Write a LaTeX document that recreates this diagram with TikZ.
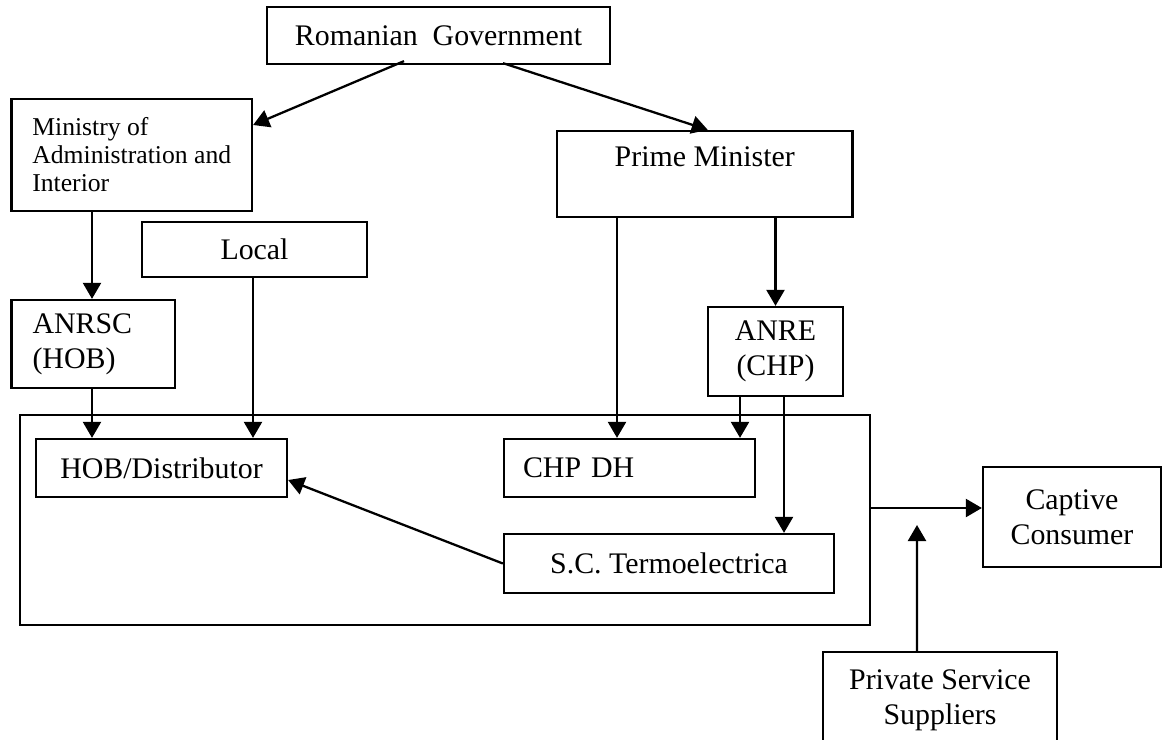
\documentclass[tikz,border=0pt]{standalone}
\usepackage{fontspec}
\setmainfont{Liberation Serif}
\usepackage{tikz}
\usetikzlibrary{positioning,arrows.meta,calc}

\begin{document}
\begin{tikzpicture}[
  x=0.2mm, y=-0.2mm,
  >={Triangle[length=3.2mm,width=3.6mm]},
  orgBox/.style={draw, line width=1.3pt, align=center, inner sep=0pt,
                 font=\fontsize{17}{20}\selectfont},
  arr/.style={->, line width=1.3pt},
]
\clip (0,0) rectangle (1162,740);
\fill[white] (0,0) rectangle (1162,740);

% top of the hierarchy
\node[orgBox, minimum width=68.6mm, minimum height=11.4mm] (gov) at (438.5,35.5) {Romanian\ \ Government};
\node[orgBox, minimum width=48.1mm, minimum height=22.4mm, align=left,
      font=\fontsize{14.6}{15.9}\selectfont] (mai) at (131.75,155) {Ministry of\\Administration and\\Interior};
\node[orgBox, minimum width=59.1mm, minimum height=17.2mm] (pm) at (704.75,174) {Prime Minister\\\mbox{}};
\node[orgBox, minimum width=45mm, minimum height=11mm] (local) at (254.5,249.5) {Local};

% regulators
\node[orgBox, text width=24.3mm, inner xsep=4.2mm, minimum height=17.6mm, align=left] (anrsc) at (93.25,344) {ANRSC\\(HOB)};
\node[orgBox, minimum width=27mm, minimum height=17.8mm] (anre) at (775.5,351.5) {ANRE\\(CHP)};

% heat supply sector
\node[orgBox, minimum width=170mm, minimum height=42mm] (sector) at (445,520) {};
\node[orgBox, minimum width=50.2mm, minimum height=11.6mm] (hob) at (161.5,468) {HOB/Distributor};
\node[orgBox, text width=42.6mm, inner xsep=3.8mm, minimum height=11.6mm, align=left] (chp) at (629.5,468) {CHP DH};
\node[orgBox, minimum width=66mm, minimum height=11.8mm] (termo) at (669,563.5) {S.C. Termoelectrica};

% consumers
\node[orgBox, minimum width=35.6mm, minimum height=20mm] (captive) at (1072,517) {Captive\\Consumer};
\node[orgBox, minimum width=46.8mm, minimum height=19.4mm] (private) at (940,700.5) {Private Service\\Suppliers};
\coordinate (feed) at (917,525);

\draw[arr] ([xshift=-6.9mm,yshift=0.8mm]gov.south) -- ([yshift=6mm]mai.east);
\draw[arr] ([xshift=12.9mm,yshift=0.4mm]gov.south) -- ([xshift=0.6mm]pm.north);
\draw[arr] ([xshift=-0.25mm]anrsc.north |- mai.south) -- ([xshift=-0.25mm]anrsc.north);
\draw[arr] ([xshift=-0.25mm]anrsc.south) -- ([xshift=-0.25mm]anrsc.south |- hob.north);
\draw[arr] ([xshift=-0.3mm]local.south) -- ([xshift=-0.3mm]local.south |- hob.north);
\draw[arr] ([xshift=-2.5mm]chp.north |- pm.south) -- ([xshift=-2.5mm]chp.north);
\draw[arr] (anre.north |- pm.south) -- (anre.north);
\draw[arr] ([xshift=-7.1mm]anre.south) -- ([xshift=-7.1mm]anre.south |- chp.north);
\draw[arr] ([xshift=1.7mm]anre.south) -- ([xshift=1.7mm]anre.south |- termo.north);
\draw[arr] (termo.west) -- ([yshift=-2.4mm]hob.east);
\draw[arr] ([yshift=2.4mm]sector.east) -- ([yshift=2.4mm]sector.east -| captive.west);
\draw[arr] ([xshift=-4.6mm]private.north) -- (feed);
\end{tikzpicture}
\end{document}
